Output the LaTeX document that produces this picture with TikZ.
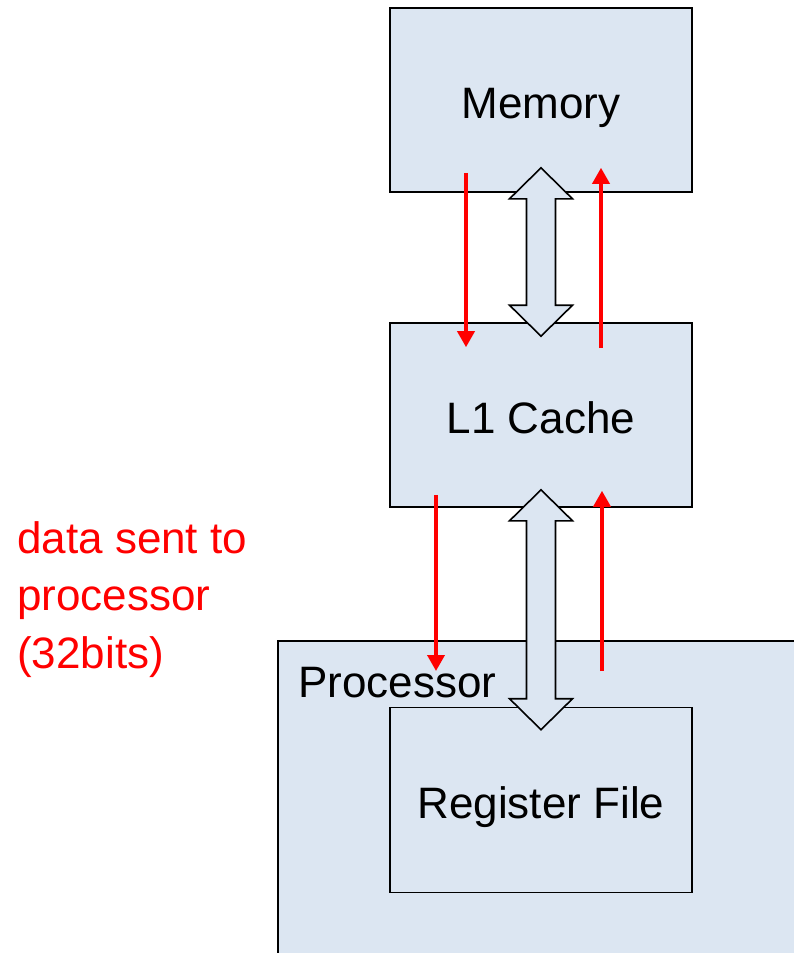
\documentclass[tikz,border=0pt]{standalone}
\usepackage{fontspec}
\setmainfont{Liberation Sans}
\usepackage{xcolor}
\usetikzlibrary{arrows.meta, calc}
\definecolor{boxblue}{HTML}{DCE6F2}
\tikzset{
    unit/.style={draw=black, line width=1.6pt, fill=boxblue, inner sep=0pt, text height=36pt, text depth=0pt, font=\fontsize{44}{57}\selectfont},
    bus/.style={draw=black, line width=1.6pt, fill=boxblue, line join=miter},
    dataflow/.style={draw=red, line width=3.6pt, -{Triangle[width=17pt,length=16pt]}},
    note/.style={text=red, inner sep=0pt, align=left, font=\fontsize{44}{57.5}\selectfont}
}
% hollow two-headed bus arrow between two tip coordinates (top, bottom)
\newcommand{\busarrow}[2]{%
    \draw[bus] (#1) -- ++(-31.5,31) -- ++(17,0) -- ($(#2)+(-14.5,-31)$) -- ++(-17,0) -- (#2)
        -- ++(31.5,-31) -- ++(-17,0) -- ($(#1)+(14.5,31)$) -- ++(17,0) -- cycle;}

\begin{document}
\begin{tikzpicture}[x=1pt, y=-1pt]
    \clip (0,0) rectangle (794,953);
    % memory hierarchy
    \node[unit, minimum width=302pt, minimum height=184pt] (mem) at (541,100) {Memory};
    \node[unit, minimum width=302pt, minimum height=184pt] (l1) at (541,415) {L1 Cache};
    \node[unit, anchor=north west, minimum width=540pt, minimum height=340pt] (proc) at (277,640) {};
    \node[unit, minimum width=302pt, minimum height=185pt] (regs) at (541,800) {Register File};
    \node[anchor=base west, inner sep=0pt, font=\fontsize{44}{57}\selectfont] (proclbl) at (298,697) {Processor};
    % bus arrows
    \coordinate (memtip) at ($(mem.south)+(0,-25)$);
    \coordinate (l1top) at ($(l1.north)+(0,14)$);
    \coordinate (l1bot) at ($(l1.south)+(0,-18)$);
    \coordinate (regtip) at ($(regs.north)+(0,23)$);
    \busarrow{memtip}{l1top}
    \busarrow{l1bot}{regtip}
    % data flow
    \coordinate (m1) at ($(mem.south)+(-75,-20)$);
    \coordinate (m2) at ($(l1.north)+(-75,25)$);
    \coordinate (m3) at ($(l1.north)+(60,26)$);
    \coordinate (m4) at ($(mem.south)+(60,-25)$);
    \draw[dataflow] (m1) -- (m2);
    \draw[dataflow] (m3) -- (m4);
    \coordinate (c1) at ($(l1.south)+(-105,-13)$);
    \coordinate (c2) at ($(proc.north west)+(159,31)$);
    \coordinate (c3) at ($(proc.north west)+(325,31)$);
    \coordinate (c4) at ($(l1.south)+(61,-17)$);
    \draw[dataflow] (c1) -- (c2);
    \draw[dataflow] (c3) -- (c4);
    \node[note, anchor=base west] (sent) at (17,668) {data sent to\\processor\\(32bits)};
\end{tikzpicture}
\end{document}
